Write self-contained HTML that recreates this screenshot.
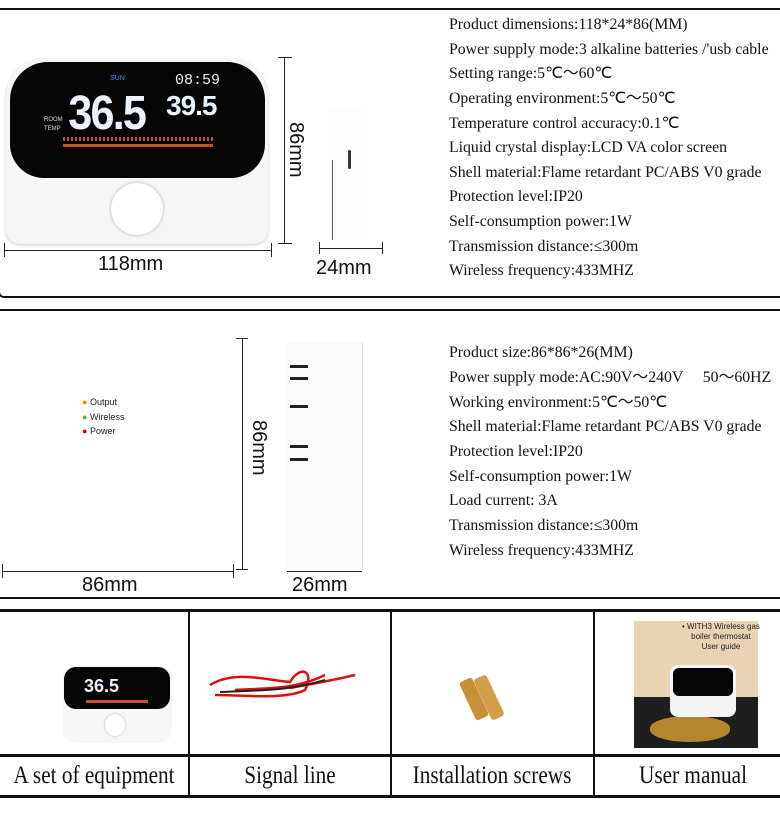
<!DOCTYPE html>
<html><head><meta charset="utf-8"><style>
body{margin:0;width:780px;height:825px;background:#fff;position:relative;overflow:hidden;font-family:"Liberation Serif",serif}
.a{position:absolute}
.box{position:absolute;border:2px solid #111;border-right:none}
.t{position:absolute;left:449px;font-size:15.8px;line-height:18px;height:18px;color:#111;white-space:nowrap}
.dim{position:absolute;font-family:"Liberation Sans",sans-serif;font-size:20px;color:#111}
.hl{position:absolute;height:1px;background:#222}
.vl{position:absolute;width:1px;background:#222}
.lab{position:absolute;top:758px;height:36px;font-size:25px;text-align:center;line-height:36px;transform:scaleX(.85);color:#111;white-space:nowrap}
</style></head><body>
<div class="box" style="left:-2px;top:8px;width:790px;height:286px;border-radius:0 0 0 6px"></div>
<div class="box" style="left:-2px;top:309px;width:790px;height:286px"></div>

<!-- device 1 -->
<div class="a" style="left:6px;top:58px;width:262px;height:186px;background:#f6f6f6;border-radius:40px 40px 14px 14px;box-shadow:0 1px 3px #ccc"></div>
<div class="a" style="left:10px;top:62px;width:255px;height:116px;background:#050505;border-radius:38px 38px 34px 34px"></div>
<div class="a" style="left:64px;top:86px;font:bold 48px 'Liberation Sans',sans-serif;color:#eaf4ff;letter-spacing:-2px;transform:scaleX(.9)">36.5</div>
<div class="a" style="left:166px;top:90px;font:bold 28px 'Liberation Sans',sans-serif;color:#eaf4ff;letter-spacing:-1px">39.5</div>
<div class="a" style="left:175px;top:72px;font:15px 'Liberation Mono',monospace;color:#eee">08:59</div>
<div class="a" style="left:110px;top:75px;font:7px sans-serif;color:#39f">SUN</div>
<div class="a" style="left:44px;top:116px;font:6px sans-serif;color:#ddd;line-height:9px">ROOM<br>TEMP</div>
<div class="a" style="left:63px;top:137px;width:150px;height:4px;background:repeating-linear-gradient(90deg,#c4512f 0 2px,transparent 2px 4px)"></div>
<div class="a" style="left:63px;top:144px;width:150px;height:3px;background:#c4512f"></div>
<div class="a" style="left:111px;top:183px;width:52px;height:52px;border-radius:50%;background:#fff;box-shadow:0 0 3px #aaa"></div>
<!-- side -->
<div class="a" style="left:327px;top:110px;width:40px;height:130px;background:#fdfdfd"></div>
<div class="a" style="left:348px;top:150px;width:3px;height:19px;background:#333;border-radius:2px"></div>
<div class="vl" style="left:332px;top:160px;height:80px;background:#555"></div>
<!-- dims 1 -->
<div class="vl" style="left:284px;top:57px;height:186px"></div>
<div class="hl" style="left:278px;top:57px;width:14px"></div><div class="hl" style="left:278px;top:243px;width:14px"></div>
<div class="dim" style="transform:rotate(90deg);transform-origin:left top;left:307px;top:122px">86mm</div>
<div class="hl" style="left:4px;top:250px;width:267px"></div>
<div class="vl" style="left:4px;top:243px;height:14px"></div><div class="vl" style="left:271px;top:243px;height:14px"></div>
<div class="dim" style="left:98px;top:253px">118mm</div>
<div class="hl" style="left:319px;top:248px;width:64px"></div>
<div class="vl" style="left:319px;top:242px;height:12px"></div><div class="vl" style="left:382px;top:242px;height:12px"></div>
<div class="dim" style="left:316px;top:257px">24mm</div>

<div class="t" style="top:16px">Product dimensions:118*24*86(MM)</div>
<div class="t" style="top:41px">Power supply mode:3 alkaline batteries /'usb cable</div>
<div class="t" style="top:65px">Setting range:5℃～60℃</div>
<div class="t" style="top:90px">Operating environment:5℃～50℃</div>
<div class="t" style="top:115px">Temperature control accuracy:0.1℃</div>
<div class="t" style="top:139px">Liquid crystal display:LCD VA color screen</div>
<div class="t" style="top:164px">Shell material:Flame retardant PC/ABS V0 grade</div>
<div class="t" style="top:188px">Protection level:IP20</div>
<div class="t" style="top:213px">Self-consumption power:1W</div>
<div class="t" style="top:238px">Transmission distance:≤300m</div>
<div class="t" style="top:262px">Wireless frequency:433MHZ</div>

<!-- box 2 -->
<div class="a" style="left:82px;top:395px;font:9px 'Liberation Sans',sans-serif;line-height:14.5px;color:#222">
<span style="color:#f80">●</span> Output<br><span style="color:#5b2">●</span> Wireless<br><span style="color:#d00">●</span> Power</div>
<div class="vl" style="left:242px;top:338px;height:232px"></div>
<div class="hl" style="left:236px;top:338px;width:12px"></div><div class="hl" style="left:236px;top:569px;width:12px"></div>
<div class="dim" style="left:270px;top:420px;transform:rotate(90deg);transform-origin:left top">86mm</div>
<div class="hl" style="left:2px;top:571px;width:232px"></div>
<div class="vl" style="left:2px;top:564px;height:14px"></div><div class="vl" style="left:233px;top:564px;height:14px"></div>
<div class="dim" style="left:82px;top:574px">86mm</div>
<div class="a" style="left:287px;top:342px;width:75px;height:228px;background:#fafafa;border-right:1px solid #ddd"></div>
<div class="a" style="left:290px;top:365px;width:18px;height:3px;background:#222"></div>
<div class="a" style="left:290px;top:377px;width:18px;height:3px;background:#222"></div>
<div class="a" style="left:290px;top:405px;width:18px;height:3px;background:#222"></div>
<div class="a" style="left:290px;top:445px;width:18px;height:3px;background:#222"></div>
<div class="a" style="left:290px;top:458px;width:18px;height:3px;background:#222"></div>
<div class="hl" style="left:287px;top:571px;width:75px"></div>
<div class="dim" style="left:292px;top:574px">26mm</div>

<div class="t" style="top:344px">Product size:86*86*26(MM)</div>
<div class="t" style="top:369px">Power supply mode:AC:90V～240V &nbsp;&nbsp;&nbsp;&nbsp;50～60HZ</div>
<div class="t" style="top:394px">Working environment:5℃～50℃</div>
<div class="t" style="top:418px">Shell material:Flame retardant PC/ABS V0 grade</div>
<div class="t" style="top:443px">Protection level:IP20</div>
<div class="t" style="top:468px">Self-consumption power:1W</div>
<div class="t" style="top:492px">Load current: 3A</div>
<div class="t" style="top:517px">Transmission distance:≤300m</div>
<div class="t" style="top:542px">Wireless frequency:433MHZ</div>

<!-- bottom grid -->
<div class="hl" style="left:0;top:609px;width:780px;height:3px;background:#111"></div>
<div class="hl" style="left:0;top:754px;width:780px;height:3px;background:#111"></div>
<div class="hl" style="left:0;top:795px;width:780px;height:3px;background:#111"></div>
<div class="vl" style="left:188px;top:610px;height:187px;width:2px;background:#111"></div>
<div class="vl" style="left:390px;top:610px;height:187px;width:2px;background:#111"></div>
<div class="vl" style="left:593px;top:610px;height:187px;width:2px;background:#111"></div>

<div class="a" style="left:62px;top:665px;width:110px;height:78px;background:#f7f7f7;border-radius:14px"></div>
<div class="a" style="left:64px;top:667px;width:106px;height:42px;background:#050505;border-radius:12px"></div>
<div class="a" style="left:84px;top:676px;font:bold 18px 'Liberation Sans';color:#eef">36.5</div>
<div class="a" style="left:86px;top:700px;width:62px;height:3px;background:#c4512f"></div>
<div class="a" style="left:105px;top:714px;width:20px;height:22px;border-radius:50%;background:#fff;box-shadow:0 0 2px #aaa"></div>

<svg class="a" style="left:205px;top:660px" width="170" height="50"><path d="M5 25 C30 10 60 20 85 22 C95 5 110 10 100 30 C80 40 40 35 10 35 M30 30 C60 28 90 30 120 15 M85 28 C100 25 130 20 150 15" stroke="#d11" stroke-width="2.5" fill="none"/><path d="M15 32 C50 30 80 32 120 20" stroke="#222" stroke-width="2" fill="none"/></svg>

<div class="a" style="left:467px;top:678px;width:14px;height:42px;background:#c8903a;transform:rotate(-25deg);border-radius:3px"></div>
<div class="a" style="left:482px;top:675px;width:14px;height:45px;background:#d39e48;transform:rotate(-25deg);border-radius:3px"></div>

<div class="a" style="left:634px;top:621px;width:124px;height:127px;background:#e8d4b4"></div>
<div class="a" style="left:634px;top:697px;width:124px;height:51px;background:#1e1e1e"></div>
<div class="a" style="left:650px;top:716px;width:80px;height:26px;background:#b4872e;border-radius:40px/12px"></div>
<div class="a" style="left:670px;top:665px;width:66px;height:52px;background:#f5f5f5;border-radius:8px"></div>
<div class="a" style="left:673px;top:668px;width:60px;height:28px;background:#050505;border-radius:6px"></div>
<div class="a" style="left:682px;top:622px;font:8px 'Liberation Sans';line-height:10px;color:#222;text-align:center">• WITH3 Wireless gas<br>boiler thermostat<br>User guide</div>

<div class="lab" style="left:-10px;width:208px">A set of equipment</div>
<div class="lab" style="left:190px;width:200px">Signal line</div>
<div class="lab" style="left:382px;width:220px">Installation screws</div>
<div class="lab" style="left:595px;width:196px">User manual</div>
</body></html>
